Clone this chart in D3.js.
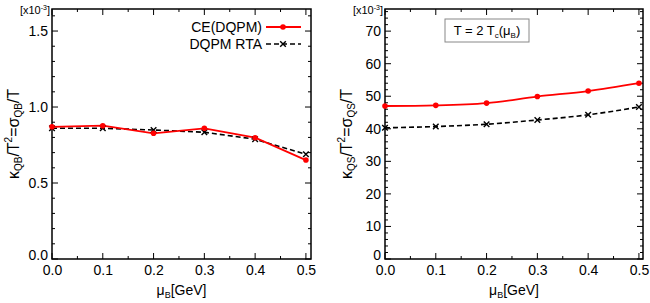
<!DOCTYPE html>
<html><head><meta charset="utf-8">
<script src="https://cdn.jsdelivr.net/npm/d3@7"></script>
<style>body{margin:0;background:#fff}svg{display:block}text{font-family:"Liberation Sans",Arial,sans-serif;fill:#000}</style>
</head><body><svg id="c" width="650" height="303"></svg>
<script>
const muB = [0.0, 0.1, 0.2, 0.3, 0.4, 0.5];
const ceQB = [0.870, 0.877, 0.827, 0.860, 0.798, 0.651];
const rtaQB = [0.860, 0.860, 0.849, 0.834, 0.788, 0.689];
const ceQS = [47.0, 47.2, 47.9, 49.9, 51.6, 54.0];
const rtaQS = [40.3, 40.7, 41.4, 42.7, 44.3, 46.7];
const xTicks = [0.0, 0.1, 0.2, 0.3, 0.4, 0.5];
const yTicksQB = [0.0, 0.5, 1.0, 1.5];
const yTicksQS = [0, 10, 20, 30, 40, 50, 60, 70];
const legendLabels = ["CE(DQPM)", "DQPM RTA"];

const svg = d3.select("#c");
const pTop = 9, pBottom = 259;

function panel(o) {
  const g = svg.append("g");
  const x = d3.scaleLinear().domain(o.xDomain).range([o.left, o.right]);
  const y = d3.scaleLinear().domain(o.yDomain).range([pBottom, pTop]);
  const xMinor = d3.range(0, o.xDomain[1] + 1e-9, 0.05);
  const yMinor = d3.range(0, o.yDomain[1] + 1e-9, o.yMinor);
  const tk = g.append("g").attr("stroke", "#000").attr("stroke-width", 1);
  xMinor.forEach(v => {
    const major = xTicks.some(t => Math.abs(t - v) < 1e-6);
    const L = major ? 6 : 3;
    tk.append("line").attr("x1", x(v)).attr("x2", x(v)).attr("y1", pBottom).attr("y2", pBottom - L);
    tk.append("line").attr("x1", x(v)).attr("x2", x(v)).attr("y1", pTop).attr("y2", pTop + L);
  });
  yMinor.forEach(v => {
    const major = o.yTicks.some(t => Math.abs(t - v) < 1e-6);
    const L = major ? 6 : 3;
    tk.append("line").attr("x1", o.left).attr("x2", o.left + L).attr("y1", y(v)).attr("y2", y(v));
    tk.append("line").attr("x1", o.right).attr("x2", o.right - L).attr("y1", y(v)).attr("y2", y(v));
  });
  g.append("rect").attr("x", o.left).attr("y", pTop).attr("width", o.right - o.left).attr("height", pBottom - pTop)
    .attr("fill", "none").attr("stroke", "#000").attr("stroke-width", 1.5);
  const xa = g.append("g").attr("transform", `translate(0,${pBottom})`)
    .call(d3.axisBottom(x).tickValues(xTicks).tickFormat(d3.format(".1f")).tickSize(0).tickPadding(6));
  xa.select(".domain").remove();
  xa.selectAll("text").attr("font-size", 14).attr("font-family", "Liberation Sans, Arial, sans-serif");
  const ya = g.append("g").attr("transform", `translate(${o.left},0)`)
    .call(d3.axisLeft(y).tickValues(o.yTicks).tickFormat(o.yFmt).tickSize(0).tickPadding(4));
  ya.select(".domain").remove();
  ya.selectAll("text").attr("font-size", 14).attr("font-family", "Liberation Sans, Arial, sans-serif");
  ya.selectAll("text").filter(d => d === 0).attr("dy", "0.05em");
  const m = g.append("text").attr("x", o.left - 2).attr("y", 14).attr("text-anchor", "end").attr("font-size", 11);
  m.append("tspan").text("[x10");
  m.append("tspan").attr("font-size", 7).attr("dy", -4).text("-3");
  m.append("tspan").attr("dy", 4).text("]");
  const xl = g.append("text").attr("x", (o.left + o.right) / 2).attr("y", 295).attr("text-anchor", "middle").attr("font-size", 14);
  xl.append("tspan").text("μ");
  xl.append("tspan").attr("font-size", 9).attr("dy", 3).text("B");
  xl.append("tspan").attr("dy", -3).text("[GeV]");
  const yl = g.append("text").attr("transform", `translate(${o.ylx},134) rotate(-90)`).attr("text-anchor", "middle").attr("font-size", 16);
  yl.append("tspan").text("κ");
  yl.append("tspan").attr("font-size", 10).attr("dy", 3).text(o.sub);
  yl.append("tspan").attr("dy", -3).text("/T");
  yl.append("tspan").attr("font-size", 10).attr("dy", -7).text("2");
  yl.append("tspan").attr("dy", 7).text("=σ");
  yl.append("tspan").attr("font-size", 10).attr("dy", 3).text(o.sub);
  yl.append("tspan").attr("dy", -3).text("/T");
  const line = d3.line().x((d, i) => x(muB[i])).y(d => y(d)).curve(o.curve);
  g.append("path").datum(o.rta).attr("d", line).attr("fill", "none").attr("stroke", "#000").attr("stroke-width", 1.6).attr("stroke-dasharray", "5,3");
  g.append("path").datum(o.ce).attr("d", line).attr("fill", "none").attr("stroke", "#ff0000").attr("stroke-width", 1.8);
  o.rta.forEach((d, i) => {
    const cx = x(muB[i]), cy = y(d), s = 2.8;
    g.append("path").attr("d", `M${cx - s},${cy - s}L${cx + s},${cy + s}M${cx - s},${cy + s}L${cx + s},${cy - s}`).attr("stroke", "#000").attr("stroke-width", 1.4);
  });
  o.ce.forEach((d, i) => {
    g.append("circle").attr("cx", x(muB[i])).attr("cy", y(d)).attr("r", 2.8).attr("fill", "#ff0000");
  });
  return g;
}

const gL = panel({left: 52, right: 311, xDomain: [0, 0.51], yDomain: [0, 1.645], yTicks: yTicksQB, yMinor: 0.1,
  yFmt: d3.format(".1f"), sub: "QB", ylx: 19, ce: ceQB, rta: rtaQB, curve: d3.curveLinear});
const gR = panel({left: 385, right: 643, xDomain: [0, 0.508], yDomain: [0, 76.8], yTicks: yTicksQS, yMinor: 2,
  yFmt: d3.format("d"), sub: "QS", ylx: 352, ce: ceQS, rta: rtaQS, curve: d3.curveMonotoneX});

const lg = gL.append("g");
lg.append("text").attr("x", 262).attr("y", 32).attr("text-anchor", "end").attr("font-size", 14).text(legendLabels[0]);
lg.append("line").attr("x1", 266).attr("x2", 301).attr("y1", 27).attr("y2", 27).attr("stroke", "#ff0000").attr("stroke-width", 1.8);
lg.append("circle").attr("cx", 283).attr("cy", 27).attr("r", 2.8).attr("fill", "#ff0000");
lg.append("text").attr("x", 262).attr("y", 49).attr("text-anchor", "end").attr("font-size", 14).text(legendLabels[1]);
lg.append("line").attr("x1", 266).attr("x2", 301).attr("y1", 44).attr("y2", 44).attr("stroke", "#000").attr("stroke-width", 1.6).attr("stroke-dasharray", "5,3");
lg.append("path").attr("d", "M280.2,41.2L285.8,46.8M280.2,46.8L285.8,41.2").attr("stroke", "#000").attr("stroke-width", 1.4);

gR.append("rect").attr("x", 445).attr("y", 19).attr("width", 84).attr("height", 23).attr("fill", "#fff").attr("stroke", "#888").attr("stroke-width", 1);
const tt = gR.append("text").attr("x", 487).attr("y", 35).attr("text-anchor", "middle").attr("font-size", 13);
tt.append("tspan").text("T = 2 T");
tt.append("tspan").attr("font-size", 8).attr("dy", 3).text("c");
tt.append("tspan").attr("dy", -3).text("(μ");
tt.append("tspan").attr("font-size", 8).attr("dy", 3).text("B");
tt.append("tspan").attr("dy", -3).text(")");
</script></body></html>
